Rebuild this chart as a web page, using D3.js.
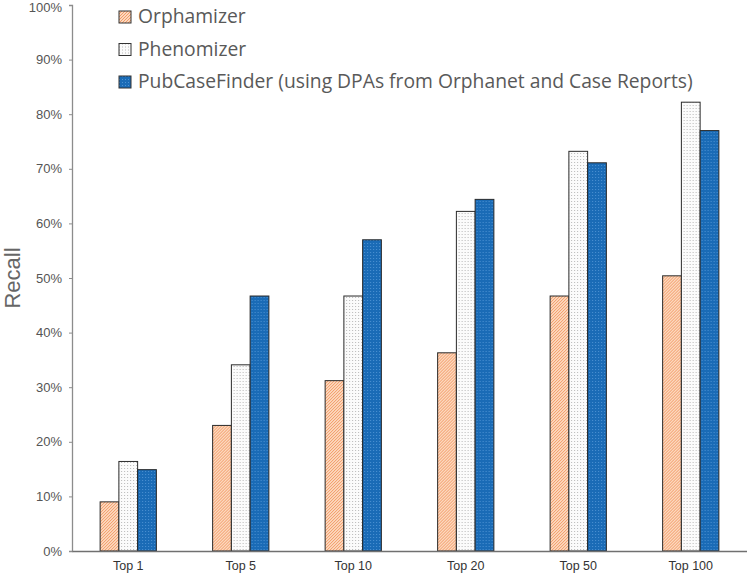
<!DOCTYPE html>
<html>
<head>
<meta charset="utf-8">
<script src="https://cdn.jsdelivr.net/npm/d3@7"></script>
<style>
  body { margin: 0; background: #fff; }
  svg { display: block; }
  .axis text { font-family: "Liberation Sans", Arial, sans-serif; }
</style>
</head>
<body>
<svg id="chart"></svg>
<script>
// data
const categories = ['Top 1', 'Top 5', 'Top 10', 'Top 20', 'Top 50', 'Top 100'];
const seriesNames = ['Orphamizer', 'Phenomizer', 'PubCaseFinder (using DPAs from Orphanet and Case Reports)'];
const orphamizer = [0.090, 0.230, 0.312, 0.363, 0.467, 0.504];
const phenomizer = [0.164, 0.341, 0.467, 0.622, 0.732, 0.822];
const pubCaseFinder = [0.149, 0.467, 0.570, 0.644, 0.711, 0.770];
const yTicks = [0, 0.1, 0.2, 0.3, 0.4, 0.5, 0.6, 0.7, 0.8, 0.9, 1.0];

const width = 747, height = 579;
const padding = { top: 5, right: 0, bottom: 28, left: 72 };

const svg = d3.select('#chart').attr('width', width).attr('height', height);

// patterns for the bar fills
const defs = svg.append('defs');
const pOrange = defs.append('pattern').attr('id', 'pat-orange')
    .attr('patternUnits', 'userSpaceOnUse').attr('width', 3).attr('height', 3);
pOrange.append('rect').attr('width', 3).attr('height', 3).attr('fill', '#fcd8be');
pOrange.append('path').attr('d', 'M-1,1 L1,-1 M0,3 L3,0 M2,4 L4,2')
    .attr('stroke', '#f0935c').attr('stroke-width', 0.9);

const pGray = defs.append('pattern').attr('id', 'pat-gray')
    .attr('patternUnits', 'userSpaceOnUse').attr('width', 3).attr('height', 3);
pGray.append('rect').attr('width', 3).attr('height', 3).attr('fill', '#fbfbfb');
pGray.append('rect').attr('width', 1).attr('height', 1).attr('fill', '#b8b8b8');

const pBlue = defs.append('pattern').attr('id', 'pat-blue')
    .attr('patternUnits', 'userSpaceOnUse').attr('width', 3).attr('height', 3);
pBlue.append('rect').attr('width', 3).attr('height', 3).attr('fill', '#1a6bb6');
pBlue.append('rect').attr('width', 1).attr('height', 1).attr('fill', '#4d92d2');

const fills = ['url(#pat-orange)', 'url(#pat-gray)', 'url(#pat-blue)'];
const values = [orphamizer, phenomizer, pubCaseFinder];

// scales
const xScale = d3.scaleBand()
    .domain(categories)
    .range([padding.left, width - padding.right])
    .paddingInner(0.5)
    .paddingOuter(0.25);
const subScale = d3.scaleBand()
    .domain(d3.range(seriesNames.length))
    .range([0, xScale.bandwidth()]);
const yScale = d3.scaleLinear()
    .domain([0, 1])
    .range([height - padding.bottom, padding.top]);

// bars
const rows = categories.map((c, i) => ({ cat: c, vals: values.map(v => v[i]) }));
svg.selectAll('.group')
    .data(rows)
    .enter()
    .append('g')
        .attr('class', 'group')
        .attr('transform', d => `translate(${xScale(d.cat)},0)`)
    .selectAll('rect')
    .data(d => d.vals.map((v, k) => ({ k, v })))
    .enter()
    .append('rect')
        .attr('x', d => subScale(d.k))
        .attr('width', subScale.bandwidth())
        .attr('y', d => yScale(d.v))
        .attr('height', d => yScale(0) - yScale(d.v))
        .attr('fill', d => fills[d.k])
        .attr('stroke', '#2a2a2a')
        .attr('stroke-width', 1);

// y axis
const yAxis = svg.append('g')
    .attr('class', 'axis')
    .attr('transform', `translate(${padding.left},0)`)
    .call(d3.axisLeft(yScale).tickValues(yTicks).tickFormat(d3.format('.0%'))
        .tickSizeInner(3).tickSizeOuter(3).tickPadding(7));
yAxis.select('.domain').attr('stroke', '#8c8c8c').attr('stroke-width', 1.3);
yAxis.selectAll('.tick line').attr('stroke', '#8c8c8c');
yAxis.selectAll('.tick text').attr('fill', '#555').style('font-size', '13px');
// keep the top label inside the canvas
yAxis.selectAll('.tick:last-of-type text').attr('dy', '0.5em');

// x axis
const xAxis = svg.append('g')
    .attr('class', 'axis')
    .attr('transform', `translate(0,${height - padding.bottom})`)
    .call(d3.axisBottom(xScale).tickSize(0).tickPadding(10));
xAxis.select('.domain').attr('stroke', '#707070').attr('stroke-width', 1.3);
xAxis.selectAll('.tick text').attr('fill', '#333').style('font-size', '12.5px');

// y title
svg.append('text')
    .attr('transform', `translate(20,${(yScale(0) + yScale(1)) / 2}) rotate(-90)`)
    .attr('text-anchor', 'middle')
    .attr('fill', '#666')
    .style('font-family', '"Liberation Sans", Arial, sans-serif')
    .style('font-size', '22px')
    .text('Recall');

// legend
const legend = svg.selectAll('.legend')
    .data(seriesNames)
    .enter()
    .append('g')
        .attr('class', 'legend')
        .attr('transform', (d, i) => `translate(119,${11 + i * 32.5})`);
legend.append('rect')
    .attr('width', 12).attr('height', 12)
    .attr('fill', (d, i) => fills[i])
    .attr('stroke', '#333').attr('stroke-width', 1);
legend.append('text')
    .attr('x', 19).attr('y', 12)
    .attr('fill', '#595959')
    .style('font-family', '"Open Sans", sans-serif')
    .style('font-size', '19.3px')
    .text(d => d);
</script>
</body>
</html>
